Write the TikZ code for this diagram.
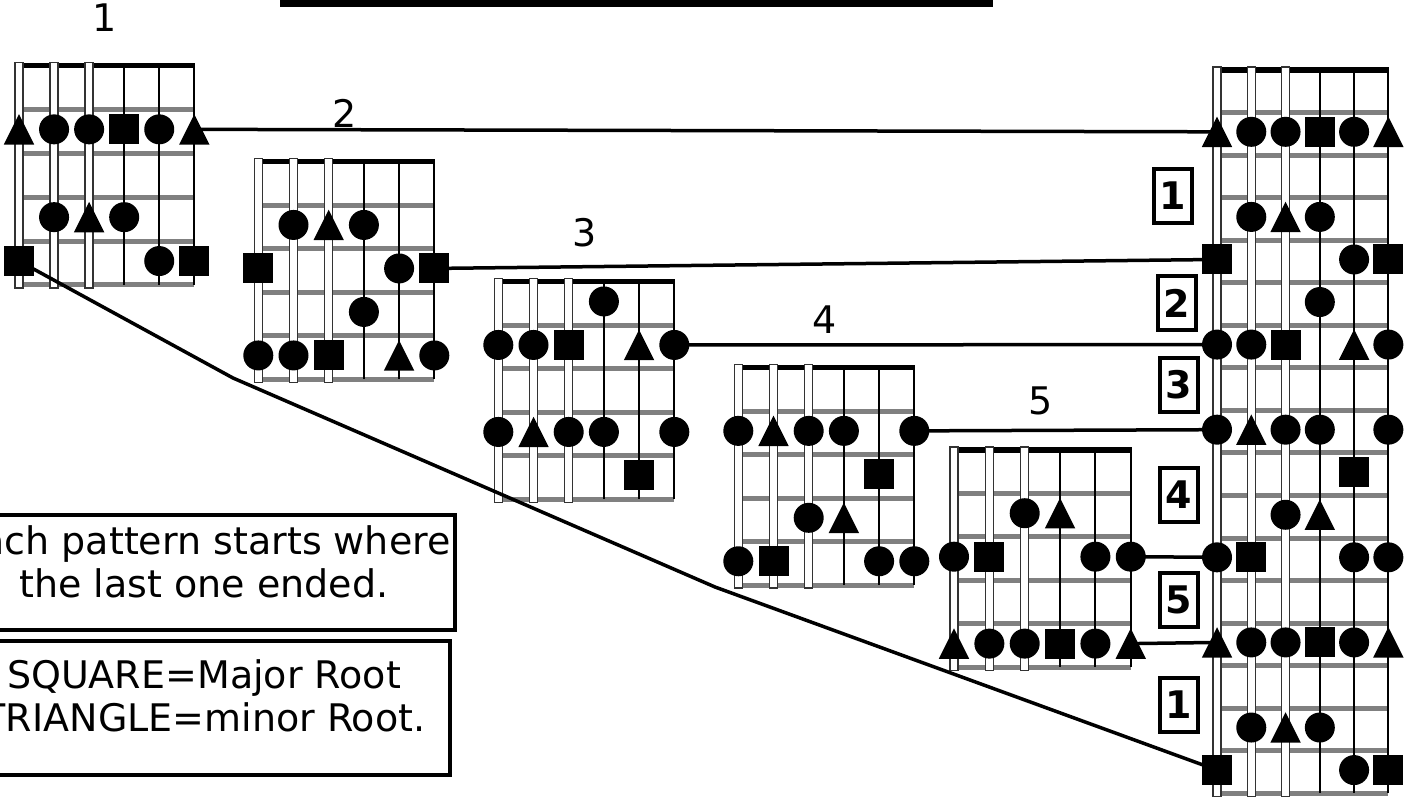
\documentclass[tikz,border=0pt]{standalone}
\usepackage{fontspec}
\setmainfont{DejaVu Sans}
\usetikzlibrary{calc}
\pgfdeclarelayer{boards}
\pgfdeclarelayer{conns}
\pgfsetlayers{boards,conns,main}
\definecolor{fretgray}{HTML}{808080}
\definecolor{woundgray}{HTML}{333333}
\tikzset{
  fretline/.style={draw=fretgray, line width=5pt},
  nutline/.style={draw=black, line width=5.5pt},
  wound/.style={draw=woundgray, fill=white, line width=1.4pt},
  plain/.style={draw=black, line width=2pt},
  cnote/.style={circle, fill=black, minimum size=30pt, inner sep=0pt},
  snote/.style={rectangle, fill=black, minimum size=30pt, inner sep=0pt},
  tnote/.style={rectangle, minimum size=30pt, inner sep=0pt},
  conn/.style={draw=black, line width=3.5pt},
  numlabel/.style={font=\fontsize{38}{44}\selectfont, inner sep=0pt},
  numbox/.style={draw=black, line width=3.5pt, minimum width=38pt, minimum height=54pt, inner sep=0pt, font=\fontsize{38}{44}\selectfont\bfseries},
  notebox/.style={draw=black, line width=4pt, inner sep=0pt},
  notetext/.style={align=center, inner sep=0pt, font=\fontsize{38}{43}\selectfont}
}
% board geometry
\newcommand{\setboard}[4]{\def\Bx{#1}\def\Bdx{#2}\def\By{#3}\def\Bf{#4}}
\newcommand{\drawboard}[1]{%
  \begin{pgfonlayer}{boards}
    \foreach \k in {1,...,#1} \draw[fretline] ({\Bx},{\By+\k*\Bf}) -- ({\Bx+5*\Bdx},{\By+\k*\Bf});
    \draw[nutline] ({\Bx},{\By}) -- ({\Bx+5*\Bdx+1},{\By});
    \foreach \s in {0,1,2} \draw[wound] ({\Bx+\s*\Bdx-4},{\By-3}) rectangle ({\Bx+\s*\Bdx+4},{\By+#1*\Bf+3});
    \foreach \s in {3,4,5} \draw[plain] ({\Bx+\s*\Bdx},{\By}) -- ({\Bx+\s*\Bdx},{\By+#1*\Bf});
  \end{pgfonlayer}}
\newcommand{\mkC}[3]{\node[cnote] (#1) at ({#2},{#3}) {};}
\newcommand{\mkS}[3]{\node[snote] (#1) at ({#2},{#3}) {};}
\newcommand{\mkT}[3]{\node[tnote] (#1) at ({#2},{#3}) {};
  \fill (#1.south west) -- (#1.north) -- (#1.south east) -- cycle;}
\newcommand{\mkN}[3]{}
\newcommand{\noterow}[3]{%
  \foreach \nt [count=\ni from 0] in {#3} {%
    \csname mk\nt\endcsname{#1-#2-\ni}{\Bx+\ni*\Bdx}{\By+\Bf*(#2+0.5)-2}}}
\begin{document}
\begin{tikzpicture}[x=1pt, y=-1pt]
\useasboundingbox (0,0) rectangle (1405,799);
\clip (0,0) rectangle (1405,799);

% top bar
\fill[black] (280,0) rectangle (993,7);

% pattern 1
\setboard{19}{35.06}{65.5}{43.9}
\drawboard{5}
\noterow{p1}{1}{T,C,C,S,C,T}
\noterow{p1}{3}{N,C,T,C,N,N}
\noterow{p1}{4}{S,N,N,N,C,S}

% pattern 2
\setboard{258.3}{35.2}{161.7}{43.5}
\drawboard{5}
\noterow{p2}{1}{N,C,T,C,N,N}
\noterow{p2}{2}{S,N,N,N,C,S}
\noterow{p2}{3}{N,N,N,C,N,N}
\noterow{p2}{4}{C,C,S,N,T,C}

% pattern 3
\setboard{498.3}{35.2}{281.7}{43.5}
\drawboard{5}
\noterow{p3}{0}{N,N,N,C,N,N}
\noterow{p3}{1}{C,C,S,N,T,C}
\noterow{p3}{3}{C,T,C,C,N,C}
\noterow{p3}{4}{N,N,N,N,S,N}

% pattern 4
\setboard{738.3}{35.2}{367.7}{43.46}
\drawboard{5}
\noterow{p4}{1}{C,T,C,C,N,C}
\noterow{p4}{2}{N,N,N,N,S,N}
\noterow{p4}{3}{N,N,C,T,N,N}
\noterow{p4}{4}{C,S,N,N,C,C}

% pattern 5
\setboard{954}{35.35}{450}{43.47}
\drawboard{5}
\noterow{p5}{1}{N,N,C,T,N,N}
\noterow{p5}{2}{C,S,N,N,C,C}
\noterow{p5}{4}{T,C,C,S,C,T}

% big board
\setboard{1217}{34.27}{70}{42.55}
\drawboard{17}
\noterow{B}{1}{T,C,C,S,C,T}
\noterow{B}{3}{N,C,T,C,N,N}
\noterow{B}{4}{S,N,N,N,C,S}
\noterow{B}{5}{N,N,N,C,N,N}
\noterow{B}{6}{C,C,S,N,T,C}
\noterow{B}{8}{C,T,C,C,N,C}
\noterow{B}{9}{N,N,N,N,S,N}
\noterow{B}{10}{N,N,C,T,N,N}
\noterow{B}{11}{C,S,N,N,C,C}
\noterow{B}{13}{T,C,C,S,C,T}
\noterow{B}{15}{N,C,T,C,N,N}
\noterow{B}{16}{S,N,N,N,C,S}

% connectors
\coordinate (k1) at (233,378);
\coordinate (k2) at (715,587);
\begin{pgfonlayer}{conns}
  \draw[conn] (p1-1-5.center) -- (B-1-0.center);
  \draw[conn] (p2-2-5.center) -- (B-4-0.center);
  \draw[conn] (p3-1-5.center) -- (B-6-0.center);
  \draw[conn] (p4-1-5.center) -- (B-8-0.center);
  \draw[conn] (p5-2-5.center) -- (B-11-0.center);
  \draw[conn] (p5-4-5.center) -- (B-13-0.center);
  \draw[conn, line join=round] (p1-4-0.center) -- (k1) -- (k2) -- (B-16-0.center);
\end{pgfonlayer}

% pattern labels
\node[numlabel] (l1) at (105,17.5) {1};
\node[numlabel] (l2) at (345,113) {2};
\node[numlabel] (l3) at (585,233) {3};
\node[numlabel] (l4) at (825,320) {4};
\node[numlabel] (l5) at (1041,401) {5};

% boxed numbers beside the big board
\node[numbox] (b1) at (1173,196) {1};
\node[numbox] (b2) at (1177,303) {2};
\node[numbox] (b3) at (1179,385) {3};
\node[numbox] (b4) at (1179,495) {4};
\node[numbox] (b5) at (1179,600) {5};
\node[numbox] (b6) at (1179,705) {1};

% note boxes
\node[notebox, minimum width=515pt, minimum height=115pt] (nb1) at (197.6,572.5) {};
\node[notetext] (t1) at (204,562) {Each pattern starts where\\the last one ended.};
\node[notebox, minimum width=495pt, minimum height=134pt] (nb2) at (202.3,707.5) {};
\node[notetext] (t2) at (204,695.5) {SQUARE=Major Root\\TRIANGLE=minor Root.};
\end{tikzpicture}
\end{document}
